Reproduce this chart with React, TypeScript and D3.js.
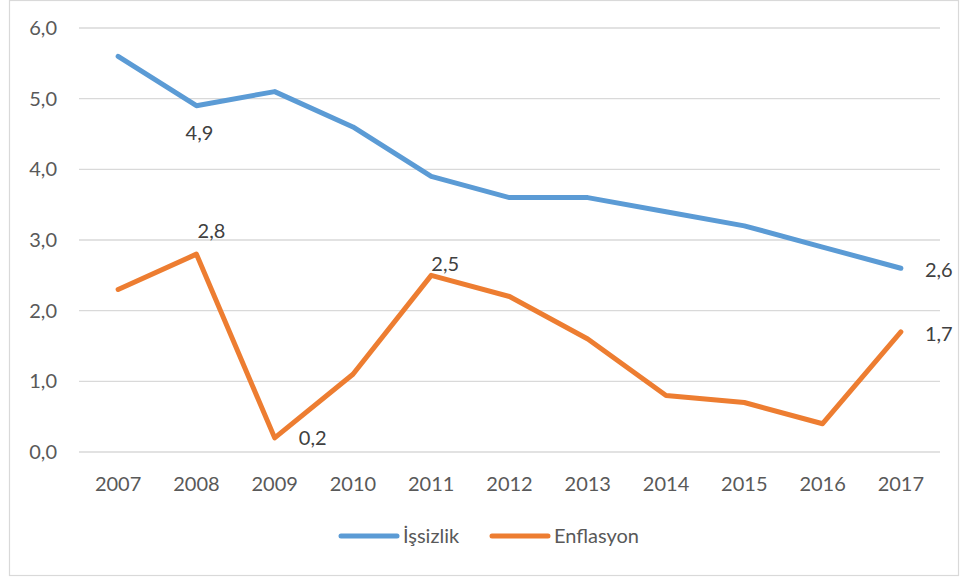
import React from "react";
import * as d3 from "d3";

const years = ["2007","2008","2009","2010","2011","2012","2013","2014","2015","2016","2017"];
const issizlik = [5.6, 4.9, 5.1, 4.6, 3.9, 3.6, 3.6, 3.4, 3.2, 2.9, 2.6];
const enflasyon = [2.3, 2.8, 0.2, 1.1, 2.5, 2.2, 1.6, 0.8, 0.7, 0.4, 1.7];
const yTicks = [0, 1, 2, 3, 4, 5, 6];
const seriesNames = ["İşsizlik", "Enflasyon"];

// data labels: [series index, point index]
const labelPoints: [number, number][] = [
  [0, 1], [0, 10], [1, 1], [1, 2], [1, 4], [1, 10],
];
// label offsets (style)
const labelOffsets: [number, number][] = [
  [3, 34], [38, 9], [15, -16], [38, 7], [14, -4], [38, 9],
];

const W = 960, H = 579;
const colors = ["#5B9BD5", "#ED7D31"];
const fmt = (v: number) => v.toFixed(1).replace(".", ",");

export default function App() {
  const x = d3.scaleBand<string>().domain(years).range([79, 940]);
  const y = d3.scaleLinear().domain([0, 6]).range([452, 28]);
  const cx = (i: number) => (x(years[i]) as number) + x.bandwidth() / 2;
  const line = d3.line<number>().x((_, i) => cx(i)).y((d) => y(d));
  const all = [issizlik, enflasyon];
  const font = "Lato, 'Open Sans', sans-serif";

  return (
    <svg width={W} height={H} style={{ position: "absolute", left: 0, top: 0, background: "#fff" }} fontFamily={font}>
      <rect x={9.5} y={0.5} width={949} height={575} fill="#fff" stroke="#d9d9d9" strokeWidth={1.2} />
      {yTicks.map((t) => (
        <g key={t}>
          <line x1={79} x2={940} y1={y(t)} y2={y(t)} stroke="#d9d9d9" strokeWidth={1.3} />
          <text x={57} y={y(t)} dy="0.35em" textAnchor="end" fontSize={20} fill="#595959">{fmt(t)}</text>
        </g>
      ))}
      {years.map((yr, i) => (
        <text key={yr} x={cx(i)} y={491} textAnchor="middle" fontSize={20} fill="#595959">{yr}</text>
      ))}
      {all.map((s, k) => (
        <path key={k} d={line(s) as string} fill="none" stroke={colors[k]} strokeWidth={5} strokeLinejoin="round" strokeLinecap="round" />
      ))}
      {labelPoints.map(([k, i], j) => (
        <text key={j} x={cx(i) + labelOffsets[j][0]} y={y(all[k][i]) + labelOffsets[j][1]} textAnchor="middle" fontSize={20} fill="#404040">
          {fmt(all[k][i])}
        </text>
      ))}
      {seriesNames.map((n, k) => {
        const lx = [341, 492][k];
        return (
          <g key={n}>
            <line x1={lx} x2={lx + 56} y1={536} y2={536} stroke={colors[k]} strokeWidth={5} strokeLinecap="round" />
            <text x={lx + 62} y={543} fontSize={20} fill="#595959">{n}</text>
          </g>
        );
      })}
    </svg>
  );
}
